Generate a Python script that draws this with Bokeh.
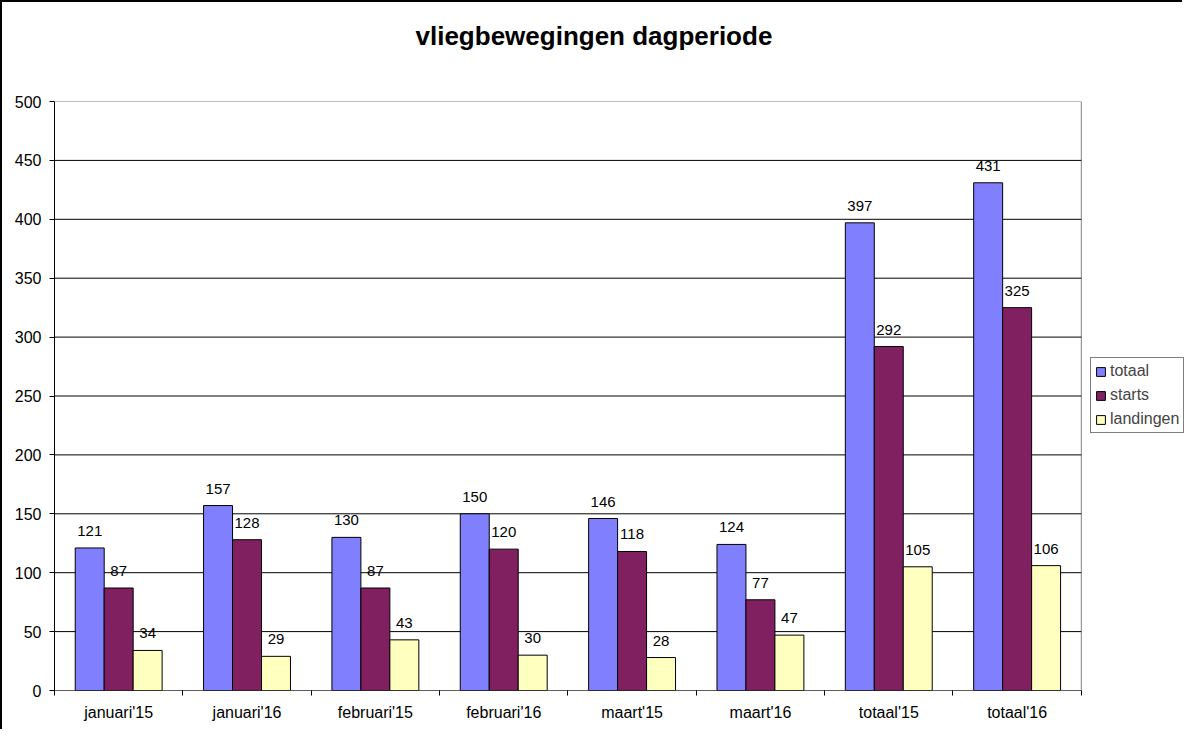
from bokeh.plotting import figure
from bokeh.models import (ColumnDataSource, FixedTicker, Legend, LegendItem, Range1d, Title)
from bokeh.core.properties import value
from bokeh.embed import file_html
from bokeh.resources import INLINE

categories = ["januari'15", "januari'16", "februari'15", "februari'16",
              "maart'15", "maart'16", "totaal'15", "totaal'16"]
totaal = [121, 157, 130, 150, 146, 124, 397, 431]
starts = [87, 128, 87, 120, 118, 77, 292, 325]
landingen = [34, 29, 43, 30, 28, 47, 105, 106]
series_names = ["totaal", "starts", "landingen"]
series_colors = ["#8080FF", "#802060", "#FFFFC0"]
y_ticks = [0, 50, 100, 150, 200, 250, 300, 350, 400, 450, 500]
y_max = 500

FONT = "Liberation Sans"
n = len(categories)

# the frame runs to the right edge so the legend can sit outside the plot area
p = figure(width=1182, height=729, output_backend="svg", toolbar_location=None,
           x_range=Range1d(0, n * 1.1005), y_range=Range1d(0, y_max),
           title_location=None,
           min_border_left=52, min_border_right=0, min_border_top=0,
           min_border_bottom=41, background_fill_color="white",
           border_fill_color="white")
p.styles = {"border-left": "2px solid black", "border-top": "2px solid black",
            "box-sizing": "border-box"}
p.outline_line_color = None

# spacer between frame and title, then the title itself
p.add_layout(Title(text=" ", text_font_size="1px", standoff=28), "above")
p.add_layout(Title(text="vliegbewegingen dagperiode", text_font=FONT,
                   text_font_size="26px", text_font_style="bold",
                   text_color="black", align="left", offset=361,
                   vertical_align="top", standoff=36), "above")

# plot area: gray border, black gridlines, black base line
p.quad(left=[0], right=[n], bottom=[0], top=[y_max], fill_color=None,
       line_color="#808080", line_width=1)
grid_y = [t for t in y_ticks if 0 < t < y_max]
p.segment(x0=[0] * len(grid_y), x1=[n] * len(grid_y), y0=grid_y, y1=grid_y,
          line_color="black", line_width=1)

bw = 0.2257
offsets = [-bw, 0.0, bw]
renderers = []
for vals, name, col, off in zip([totaal, starts, landingen], series_names, series_colors, offsets):
    src = ColumnDataSource(dict(x=[i + 0.5 + off for i in range(n)],
                                y=vals, lab=[str(v) for v in vals]))
    r = p.vbar(x="x", top="y", width=bw, bottom=0, source=src, fill_color=col,
               line_color="black", line_width=1)
    renderers.append(r)
    p.text(x="x", y="y", text="lab", source=src, text_align="center",
           text_baseline="bottom", y_offset=-12, text_font=value(FONT),
           text_font_size="15px", text_color="black")

p.segment(x0=[0], x1=[n], y0=[0], y1=[0], line_color="black", line_width=1)

# axes
centers = [i + 0.5 for i in range(n)]
p.xaxis.ticker = FixedTicker(ticks=centers, minor_ticks=list(range(n + 1)))
p.xaxis.major_label_overrides = {c: lab for c, lab in zip(centers, categories)}
p.xaxis.axis_line_color = None
p.xaxis.major_tick_in = 0
p.xaxis.major_tick_out = 0
p.xaxis.minor_tick_in = 0
p.xaxis.minor_tick_out = 5
p.xaxis.minor_tick_line_color = "black"
p.xaxis.major_label_standoff = 8
p.yaxis.ticker = FixedTicker(ticks=y_ticks)
p.yaxis.axis_line_color = "black"
p.yaxis.major_tick_in = 0
p.yaxis.major_tick_out = 5
p.yaxis.minor_tick_line_color = None
p.yaxis.major_label_standoff = 8
for ax in [p.xaxis[0], p.yaxis[0]]:
    ax.major_tick_line_color = "black"
    ax.major_label_text_font = FONT
    ax.major_label_text_font_size = "16px"
    ax.major_label_text_color = "black"

p.xgrid.grid_line_color = None
p.ygrid.grid_line_color = None

legend = Legend(items=[LegendItem(label=s, renderers=[r]) for s, r in zip(series_names, renderers)],
                location=(1036, 257), orientation="vertical",
                border_line_color="black", border_line_width=1,
                background_fill_color="white", background_fill_alpha=1,
                glyph_width=11, glyph_height=11, label_standoff=4,
                label_text_font=FONT, label_text_font_size="16px",
                padding=4, spacing=6, margin=0, label_height=18)
p.add_layout(legend, "center")

open("out.html", "w").write(file_html(p, INLINE))
